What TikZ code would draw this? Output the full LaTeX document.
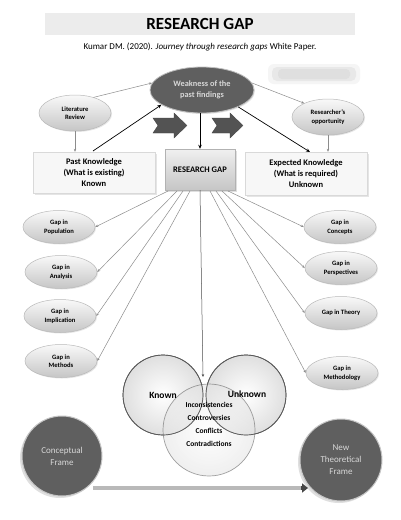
\documentclass[tikz,border=0pt]{standalone}
\usepackage{fontspec}
\setmainfont{Carlito}
\usetikzlibrary{shapes.geometric,arrows.meta,shadows}
\definecolor{darkfill}{HTML}{5F5F5F}
\definecolor{darktext}{HTML}{D8D8D8}
\definecolor{linegray}{HTML}{8C8C8C}
\begin{document}
\begin{tikzpicture}[x=1pt,y=-1pt,
  lightell/.style={ellipse, draw=gray!55, line width=0.5pt, top color=gray!5, bottom color=gray!45,
    minimum width=72pt, minimum height=33pt, inner sep=0pt, align=center,
    font=\fontsize{6.6}{8.5}\selectfont\bfseries,
    drop shadow={opacity=0.2, shadow xshift=1pt, shadow yshift=-1pt}},
  darkell/.style={ellipse, draw=gray!50, line width=0.8pt, fill=darkfill, text=darktext,
    inner sep=0pt, align=center, font=\fontsize{8.3}{10.5}\selectfont\bfseries,
    drop shadow={opacity=0.2, shadow xshift=1pt, shadow yshift=-1pt}},
  darkcirc/.style={circle, draw=gray!45, line width=1pt, fill=darkfill, text=darktext,
    inner sep=0pt, align=center, font=\fontsize{9}{12}\selectfont,
    drop shadow={opacity=0.25, shadow xshift=-2pt, shadow yshift=-2pt}},
  knowbox/.style={rectangle, draw=gray!30, fill=gray!6, align=center, inner sep=0pt,
    font=\fontsize{8.5}{11}\selectfont\bfseries,
    drop shadow={opacity=0.2, shadow xshift=1.5pt, shadow yshift=-1.5pt}},
  gapbox/.style={rectangle, draw=gray!60, top color=gray!12, bottom color=gray!45, align=center,
    inner sep=0pt, font=\fontsize{8.5}{10}\selectfont\bfseries,
    drop shadow={opacity=0.25, shadow xshift=1.5pt, shadow yshift=-1.5pt}},
  venn/.style={circle, draw=gray!70!black, line width=0.7pt, inner sep=0pt},
  thin/.style={draw=linegray, line width=0.5pt, -{Stealth[length=3pt,width=2.5pt]}},
  bold/.style={draw=black, line width=0.7pt, -{Stealth[length=4pt,width=3.5pt]}},
  blockarrow/.style={fill=gray!65!black, draw=gray!50!black, line width=0.3pt},
  venntext/.style={font=\fontsize{7.5}{8.5}\selectfont\bfseries}
]
\useasboundingbox (0,0) rectangle (401,520);
\fill[white] (0,0) rectangle (401,520);

% title
\fill[gray!15] (45,13) rectangle (355,35);
\node[font=\fontsize{17}{20}\selectfont\bfseries] (title) at (200,24) {RESEARCH GAP};
\node[font=\fontsize{9}{10}\selectfont] (cite) at (200,47) {Kumar DM. (2020). \textit{Journey through research gaps} White Paper.};

% blurred patch
\fill[gray!8, rounded corners=6pt] (268,64) rectangle (360,84);
\fill[gray!18, rounded corners=5pt] (272,67) rectangle (356,81);
\fill[gray!25, rounded corners=4pt] (278,69) rectangle (350,79);

% top nodes
\node[darkell, minimum width=104pt, minimum height=46pt] (weak) at (202,90) {Weakness of the\\past findings};
\node[lightell, minimum width=72pt, minimum height=36pt] (lit) at (75,113) {Literature\\Review};
\node[lightell, minimum width=72pt, minimum height=36pt] (opp) at (328,117) {Researcher's\\opportunity};

% boxes
\node[knowbox, minimum width=122pt, minimum height=41pt] (past) at (94,172.5) {Past Knowledge\\(What is existing)\\Known};
\node[gapbox, minimum width=70pt, minimum height=41pt] (gap) at (200,169.5) {RESEARCH GAP};
\node[knowbox, minimum width=122pt, minimum height=43pt] (exp) at (306,173.5) {Expected Knowledge\\(What is required)\\Unknown};

% block arrows
\path[blockarrow] (153,118) -- (174,118) -- (174,113) -- (187,125.5) -- (174,138) -- (174,133) -- (153,133) -- (158,125.5) -- cycle;
\path[blockarrow] (212,118) -- (230,118) -- (230,113) -- (243,125.5) -- (230,138) -- (230,133) -- (212,133) -- (217,125.5) -- cycle;

% top connectors
\draw[thin] (lit.40) -- (weak.172);
\draw[thin] (weak.8) -- (opp.150);
\draw[thin] (lit.south) -- (lit.south |- past.north);
\draw[thin] (opp.south) -- (opp.south |- exp.north);
\coordinate (pa) at (93,151);
\coordinate (ea) at (310,152);
\draw[bold] (pa) -- (weak.200);
\draw[bold] (weak.-25) -- (ea);
\draw[line width=0.7pt, -{Stealth[length=4pt,width=3.5pt]}] (weak.south -| gap.north) -- (gap.north);

% gap ellipses
\node[lightell] (pop) at (59,227) {Gap in\\Population};
\node[lightell] (ana) at (61,272) {Gap in\\Analysis};
\node[lightell] (imp) at (60,316) {Gap in\\Implication};
\node[lightell] (met) at (61,361) {Gap in\\Methods};
\node[lightell] (con) at (340,227) {Gap in\\Concepts};
\node[lightell] (per) at (341,268) {Gap in\\Perspectives};
\node[lightell] (the) at (341,313) {Gap in Theory};
\node[lightell] (mdl) at (342,373) {Gap in\\Methodology};

\coordinate (g1) at (168,191);
\coordinate (g2) at (177,191);
\coordinate (g3) at (183,191);
\coordinate (g4) at (190,191);
\coordinate (g5) at (210,191);
\coordinate (g6) at (216,191);
\coordinate (g7) at (222,191);
\coordinate (g8) at (228,191);
\draw[thin] (g1) -- (pop.east);
\draw[thin] (g2) -- (ana.east);
\draw[thin] (g3) -- (imp.east);
\draw[thin] (g4) -- (met.east);
\draw[thin] (g5) -- (mdl.west);
\draw[thin] (g6) -- (the.west);
\draw[thin] (g7) -- (per.west);
\draw[thin] (g8) -- (con.west);

% Venn
\node[venn, minimum size=80pt, inner color=white, outer color=gray!25] (known) at (163,395) {};
\node[venn, minimum size=80pt, inner color=white, outer color=gray!25] (unk) at (246,395) {};
\node[venn, minimum size=92pt, inner color=white, outer color=gray!22, opacity=0.55] (mid) at (209,430) {};
\node[venn, minimum size=80pt] (knowno) at (163,395) {};
\node[venn, minimum size=80pt] (unko) at (246,395) {};
\coordinate (vt) at (203,377);
\draw[thin, draw=gray!60!black] (gap.south) -- (vt);
\node[font=\fontsize{9.5}{10}\selectfont\bfseries] (tk) at (163,395) {Known};
\node[font=\fontsize{9.5}{10}\selectfont\bfseries] (tu) at (247,394) {Unknown};
\node[venntext] (t1) at (209,405) {Inconsistencies};
\node[venntext] (t2) at (209,418) {Controversies};
\node[venntext] (t3) at (209,431) {Conflicts};
\node[venntext] (t4) at (209,444) {Contradictions};

% frames
\node[darkcirc, minimum size=80pt] (cf) at (62,456) {Conceptual\\Frame};
\node[darkcirc, minimum size=82pt] (nt) at (341,460) {New\\Theoretical\\Frame};
\coordinate (as) at (93,488);
\coordinate (ae) at (308,488);
\draw[draw=gray!55!black, line width=4.5pt, -{Triangle[length=6pt,width=9pt]}] (as) -- (ae);
\draw[gray!55, line width=3.2pt, shorten >=7pt] (as) -- (ae);
\end{tikzpicture}
\end{document}
